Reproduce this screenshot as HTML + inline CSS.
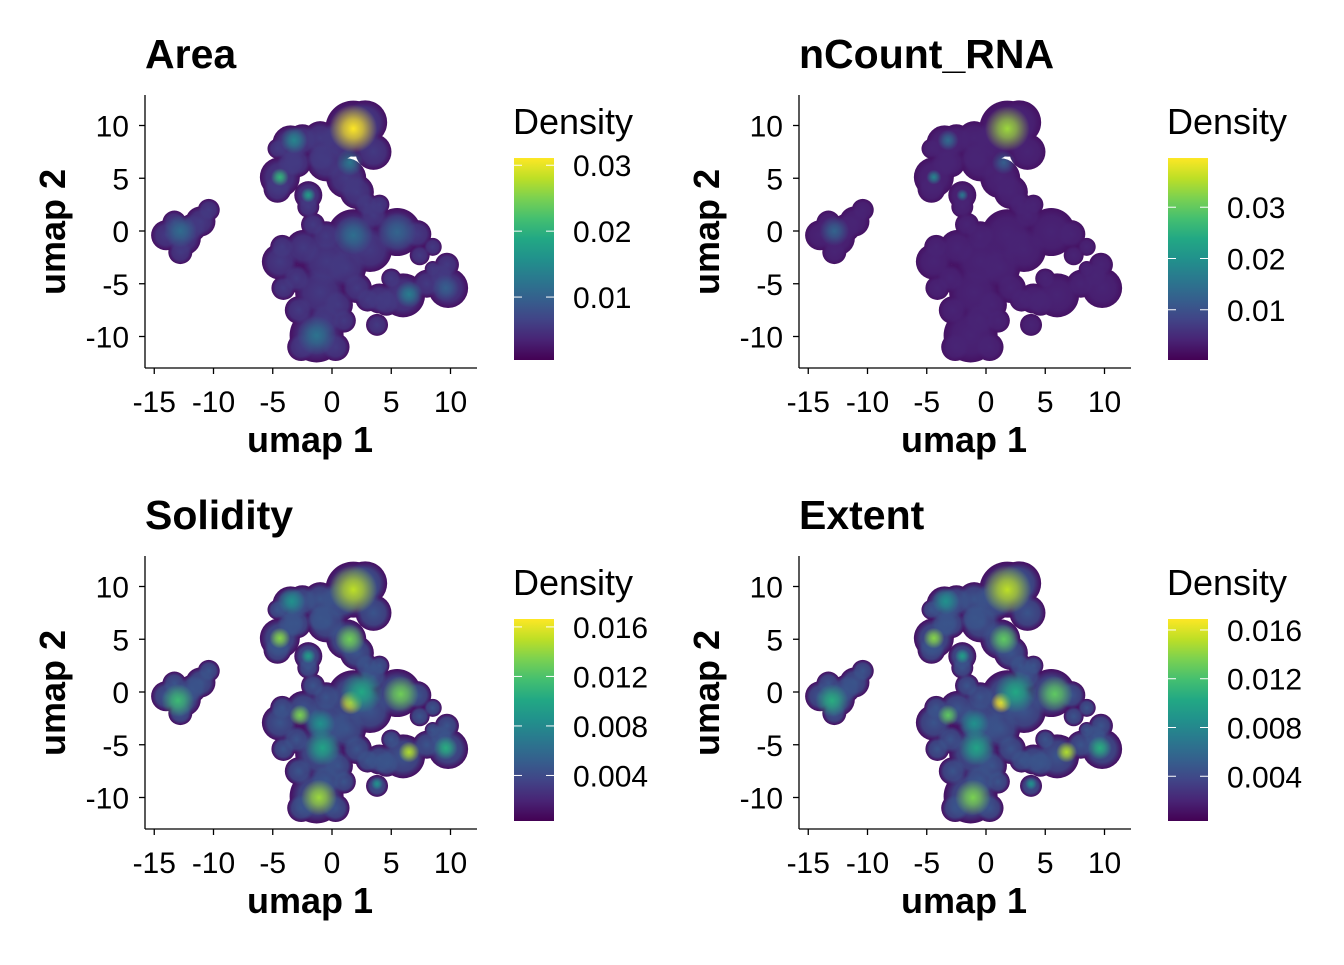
<!DOCTYPE html>
<html><head><meta charset="utf-8"><style>
html,body{margin:0;padding:0;background:#fff;}
svg text{font-family:"Liberation Sans",Arial,sans-serif;fill:#000;}
</style></head><body>
<svg id="chart" xmlns="http://www.w3.org/2000/svg" width="1344" height="960" viewBox="0 0 1344 960">
<defs id="defs"></defs>
</svg>
<script>
// ---------- data ----------
const panelTitles = ["Area", "nCount_RNA", "Solidity", "Extent"];
const xTicks = [-15, -10, -5, 0, 5, 10];
const yTicks = [10, 5, 0, -5, -10];
const legendTicks = [[0.01, 0.02, 0.03], [0.01, 0.02, 0.03], [0.004, 0.008, 0.012, 0.016], [0.004, 0.008, 0.012, 0.016]];
const legendMin = [0.00045, 0.0002, 0.00032, 0.00033];
const legendMax = [0.0311, 0.0396, 0.01664, 0.0169];
// cell-cloud blobs: umap1, umap2, radius(px)
const blobX = [-14,-12.5,-11.1,-10.4,-12.8,-13.3,-11.8, 1.8,2.8,0.6,-3.5,-2.5,-4.4,-1,-4.6,-2.0,-2.0,-0.45,1.2,2.1,2.9,4.0,1.8,3.2,5.5,7.2,-1.6,-2.4,-4.4,-4.1,-0.45,-1.0,1.2,2.1,-1.3,-0.5,3.8,7.4,6.0,4.0,9.8,9.7,8.5,-3.5,3.5,-0.5,3.5,-3,0.5,-2.8,3,1,5,8,8.5,-3,-1,-4.6,0.3,-2.6,-4.2,4.6,9.2];
const blobY = [-0.4,-0.7,0.9,2.0,-2.0,0.8,0.3, 9.7,10.3,8.6,8.3,8.6,5.1,8.8,4.0,3.4,2.3,6.6,5.0,3.7,2.5,2.5,-0.4,-1.8,-0.1,-0.3,0.6,-1.6,-2.9,-5.4,-2.9,-5.8,-3.5,-5.4,-9.9,-8.3,-8.9,-2.3,-6.1,-6.4,-5.4,-3.2,-3.6,6.5,7.5,-0.5,1.5,-4.5,-7,-7.5,-6.5,-8.5,-4.5,-5,-1.5,6.5,7,7.8,-11,-11,-1.5,-6.8,-4.2];
const blobR = [15,17,15,11,12,12,14, 28,22,20,18,16,20,17,14,14,11,20,20,17,12,10,26,22,24,14,12,18,18,12,25,25,20,15,27,16,11,10,22,15,20,12,8,14,18,15,14,14,15,14,12,12,10,14,9,15,14,10,14,14,12,13,12];
const baseValue = [0.17, 0.1, 0.26, 0.26];
// hotspots: umap1, umap2, radius(px), relative value (0-1)
const hotX = [[1.8,-4.4,-2.0,-3.2,-1.3,1.8,5.5,6.5,-12.8,1.5,9.6],[1.8,-4.4,-3.2,-12.8,-2.0,1.5],[1.8,-4.4,1.5,-3.4,-2.0,1.6,2.5,5.8,-2.7,-0.8,-1.1,6.5,9.6,-13,-1,3.8],[1.8,-4.4,1.5,-3.4,-2.0,1.3,2.5,5.8,-3.2,-0.8,-1.1,6.8,9.6,-13,-1,3.8]];
const hotY = [[9.7,5.1,3.4,8.6,-9.9,-0.4,-0.1,-6,0,6.5,-5.4],[9.7,5.1,8.6,0,3.4,6.5],[9.7,5.1,5,8.6,3.4,-1,0,-0.2,-2.2,-5.3,-10,-5.7,-5.3,-0.8,-3,-8.7],[9.7,5.1,5,8.6,3.4,-1,0,-0.2,-2.2,-5.3,-10,-5.7,-5.3,-0.8,-3,-8.7]];
const hotR = [[16,6,5,9,13,13,13,9,11,9,9],[15,5,7,10,4,8],[16,7,10,9,5,8,14,12,7,12,12,7,8,11,10,4],[16,7,10,9,5,7,14,12,7,12,12,7,8,11,10,4]];
const hotV = [[1.0,0.65,0.55,0.45,0.38,0.36,0.32,0.42,0.35,0.4,0.3],[0.85,0.45,0.35,0.32,0.4,0.3],[0.9,0.82,0.78,0.5,0.55,0.95,0.6,0.78,0.8,0.58,0.85,0.88,0.62,0.68,0.5,0.5],[0.9,0.82,0.75,0.5,0.55,1.0,0.6,0.75,0.75,0.58,0.8,0.88,0.62,0.62,0.5,0.5]];

// ---------- helpers ----------
const NS = "http://www.w3.org/2000/svg";
const svg = document.getElementById("chart");
const defs = document.getElementById("defs");
const VIR = ["#440154","#482475","#414487","#355f8d","#2a788e","#21918c","#22a884","#44bf70","#7ad151","#bddf26","#fde725"];
function hex(c){return [1,3,5].map(i=>parseInt(c.substr(i,2),16));}
function viridis(t){t=Math.max(0,Math.min(1,t))*10;const i=Math.min(9,Math.floor(t)),f=t-i;const a=hex(VIR[i]),b=hex(VIR[i+1]);return "rgb("+a.map((v,k)=>Math.round(v+(b[k]-v)*f)).join(",")+")";}
function mk(tag, attrs, parent){const e=document.createElementNS(NS,tag);for(const k in attrs)e.setAttribute(k,attrs[k]);(parent||svg).appendChild(e);return e;}
const offsets = [[0,0],[654,0],[0,461],[654,461]];
function xScale(v,ox){return ox+332+11.85*v;}
function yScale(v,oy){return oy+231-10.55*v;}

const lg = mk("linearGradient",{id:"vgrad",x1:0,y1:1,x2:0,y2:0},defs);
VIR.forEach((c,i)=>mk("stop",{offset:(i/10),"stop-color":c},lg));

panelTitles.forEach((title,p)=>{
  const [ox,oy]=offsets[p];
  const g = mk("g",{});
  
  
  const t = mk("text",{x:ox+145,y:oy+68,"font-size":"41","font-weight":"bold"},g);
  t.textContent = title;
  
  
  const cp = mk("clipPath",{id:"clip"+p},defs);
  blobX.forEach((x,i)=>mk("circle",{cx:xScale(x,ox),cy:yScale(blobY[i],oy),r:blobR[i]},cp));
  const cloud = mk("g",{"clip-path":"url(#clip"+p+")"},g);
  
  
  mk("rect",{x:ox+140,y:oy+90,width:340,height:280,fill:viridis(0.05)},cloud);
  const bg = mk("radialGradient",{id:"base"+p},defs);
  mk("stop",{offset:0,"stop-color":viridis(baseValue[p]),"stop-opacity":1},bg);
  mk("stop",{offset:0.7,"stop-color":viridis(baseValue[p]),"stop-opacity":0.7},bg);
  mk("stop",{offset:1,"stop-color":viridis(baseValue[p]),"stop-opacity":0},bg);
  blobX.forEach((x,i)=>{
    const c = mk("circle",{cx:xScale(x,ox),cy:yScale(blobY[i],oy),r:blobR[i]*0.95,fill:"url(#base"+p+")"},cloud);
    
    
  });
  hotX[p].forEach((x,i)=>{
    const id="hot"+p+"_"+i, col=viridis(hotV[p][i]);
    const rg = mk("radialGradient",{id:id},defs);
    mk("stop",{offset:0,"stop-color":col,"stop-opacity":1},rg);
    mk("stop",{offset:0.4,"stop-color":col,"stop-opacity":0.7},rg);
    mk("stop",{offset:1,"stop-color":col,"stop-opacity":0},rg);
    const c = mk("circle",{cx:xScale(x,ox),cy:yScale(hotY[p][i],oy),r:hotR[p][i]*1.5,fill:"url(#"+id+")"},cloud);
    
    
  });
  const ax = mk("g",{stroke:"#000","stroke-width":1.3},g);
  
  
  mk("line",{x1:ox+145,y1:oy+95,x2:ox+145,y2:oy+368},ax);
  mk("line",{x1:ox+145,y1:oy+368,x2:ox+477,y2:oy+368},ax);
  xTicks.forEach(v=>{
    const x=xScale(v,ox);
    mk("line",{x1:x,y1:oy+368,x2:x,y2:oy+374},ax);
    const tx=mk("text",{x:x,y:oy+412,"font-size":"30","text-anchor":"middle"},g);
    tx.textContent=v;
    
    
  });
  yTicks.forEach(v=>{
    const y=yScale(v,oy);
    mk("line",{x1:ox+139,y1:y,x2:ox+145,y2:y},ax);
    const ty=mk("text",{x:ox+129,y:y+11,"font-size":"30","text-anchor":"end"},g);
    ty.textContent=v;
    
    
  });
  const xl=mk("text",{x:ox+310,y:oy+452,"font-size":"36","font-weight":"bold","text-anchor":"middle"},g);
  xl.textContent="umap 1";
  
  
  const yl=mk("text",{x:0,y:0,"font-size":"36","font-weight":"bold","text-anchor":"middle",transform:"translate("+(ox+65)+","+(oy+232)+") rotate(-90)"},g);
  yl.textContent="umap 2";
  
  
  const lgG = mk("g",{},g);
  
  
  const lt=mk("text",{x:ox+513,y:oy+134,"font-size":"36"},lgG);
  lt.textContent="Density";
  
  
  const top=oy+158, bot=oy+360;
  const bar=mk("rect",{x:ox+514,y:top,width:40,height:bot-top,fill:"url(#vgrad)"},lgG);
  
  
  legendTicks[p].forEach(v=>{
    const y = bot-(v-legendMin[p])/(legendMax[p]-legendMin[p])*(bot-top);
    mk("line",{x1:ox+514,y1:y,x2:ox+522,y2:y,stroke:"#fff","stroke-width":1},lgG);
    mk("line",{x1:ox+546,y1:y,x2:ox+554,y2:y,stroke:"#fff","stroke-width":1},lgG);
    const l=mk("text",{x:ox+573,y:y+11,"font-size":"30"},lgG);
    l.textContent=String(v);
    
    
  });
});
</script>
</body></html>
